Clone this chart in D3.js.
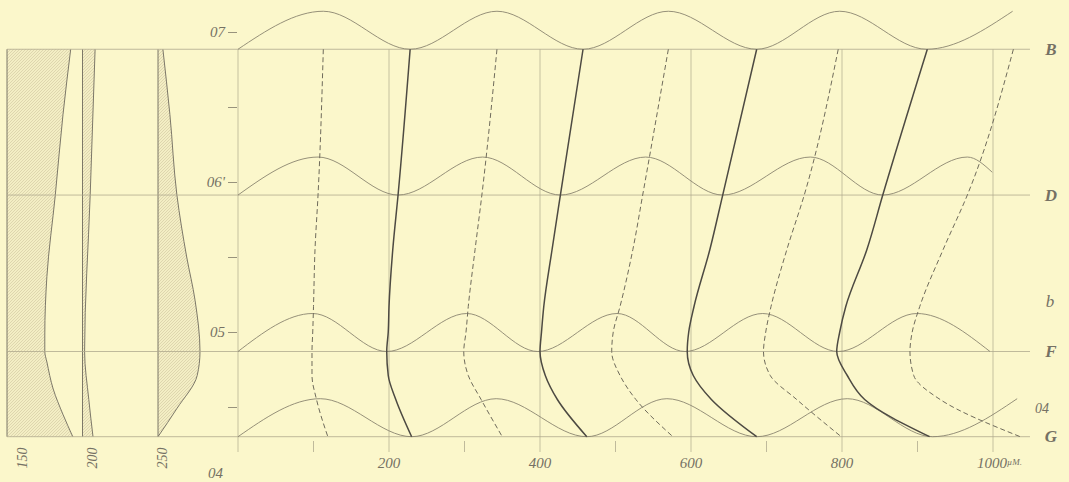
<!DOCTYPE html>
<html lang="en">
<head>
<meta charset="utf-8">
<title>Interference curves</title>
<script src="https://d3js.org/d3.v7.min.js"></script>
<style>
  html, body { margin: 0; padding: 0; background: #fbf7cb; }
  svg { display: block; }
  text { font-family: "Liberation Serif", "DejaVu Serif", serif; font-style: italic; fill: #757164; }
</style>
</head>
<body>
<div id="chart"></div>
<script>
const w = 1069;
const h = 482;

// Fraunhofer lines (wavelength, micron)
const lineNames = ["B", "D", "F", "G"];
const lineWaves = [0.6885, 0.5913, 0.487, 0.4302];

// y axis ticks
const yTicks = [0.7, 0.65, 0.6, 0.55, 0.5, 0.45, 0.4];
const yLabels = {0.7: "07", 0.6: "06'", 0.5: "05", 0.4: "04"};

// x axis
const xMajor = [0, 200, 400, 600, 800, 1000];
const xMinor = [100, 300, 500, 700, 900];
const xLabels = ["200", "400", "600", "800", "1000"];

// intensity humps above each line: extrema positions and level
const humpBx = [0, 113, 228, 343, 457, 570, 687, 797, 912, 1026];
const humpBv = [0, 1, 0, 1, 0, 1, 0, 1, 0, 1];
const humpDx = [0, 106, 212, 324, 427, 540, 642, 758, 854, 966, 999];
const humpDv = [0, 1, 0, 1, 0, 1, 0, 1, 0, 1, 0.6];
const humpFx = [0, 99, 197, 303, 397, 502, 592, 695, 795, 899, 996];
const humpFv = [0, 1, 0, 1, 0, 1, 0, 1, 0, 1, 0];
const humpGx = [0, 109, 230, 342, 462, 568, 687, 807, 920, 1032];
const humpGv = [0, 1, 0, 1, 0, 1, 0, 1, 0, 1];

// wavelengths at which the fringe curves were read
const sampleWaves = [0.6885, 0.5913, 0.555, 0.517, 0.500, 0.487, 0.471, 0.455, 0.4302];

// dark fringes (solid)
const dark1 = [228, 212, 205, 200, 199, 197, 199, 209, 230];
const dark2 = [457, 427, 416, 405, 402, 400, 407, 423, 462];
const dark3 = [687, 642, 625, 604, 597, 595, 603, 627, 687];
const dark4 = [913, 854, 833, 805, 797, 793, 807, 830, 916];

// bright fringes (dashed)
const bright1 = [113, 106, 102, 100, 99, 98, 98, 104, 119];
const bright2 = [343, 323, 314, 305, 302, 299, 305, 322, 350];
const bright3 = [570, 536, 523, 506, 497, 495, 506, 527, 576];
const bright4 = [795, 750, 727, 706, 699, 696, 705, 740, 799];
const bright5 = [1027, 966, 934, 903, 893, 890, 895, 930, 1036];

// side panels: thickness 150, 200, 250
const panel1Waves = [0.6885, 0.645, 0.5913, 0.537, 0.498, 0.487, 0.480, 0.462, 0.445, 0.4302];
const panel1Vals  = [0.91, 0.80, 0.69, 0.57, 0.54, 0.54, 0.57, 0.66, 0.80, 0.94];
const panel2Waves = [0.6885, 0.5913, 0.487, 0.455, 0.4302];
const panel2Vals  = [0.18, 0.11, 0.03, 0.09, 0.15];
const panel3Waves = [0.6885, 0.645, 0.5913, 0.55, 0.521, 0.487, 0.471, 0.449, 0.4302];
const panel3Vals  = [0.07, 0.17, 0.27, 0.41, 0.53, 0.60, 0.56, 0.27, 0];

// scales
const xScale = d3.scaleLinear().domain([0, 1000]).range([238, 993]);
const yScale = d3.scaleLinear().domain([0.4, 0.7]).range([482, 32]);
const humpScale = d3.scaleLinear().domain([0, 1]).range([0, 38]);
const panelScale = d3.scaleLinear().domain([150, 250]).range([7, 158]);
const panelWidth = d3.scaleLinear().domain([0, 1]).range([0, 70]);
const panelLabelX = d3.scaleLinear().domain([150, 250]).range([22, 162]);

const gridColor = "#b0aa8e";

const svg = d3.select("#chart").append("svg")
  .attr("width", w)
  .attr("height", h);

svg.append("rect").attr("width", w).attr("height", h).attr("fill", "#fbf7cb");

// hatch pattern
const pat = svg.append("defs").append("pattern")
  .attr("id", "hatch")
  .attr("patternUnits", "userSpaceOnUse")
  .attr("width", 3).attr("height", 3);
pat.append("rect").attr("width", 3).attr("height", 3).attr("fill", "#f3eec4");
pat.append("path").attr("d", "M-1,1 L1,-1 M0,3 L3,0 M2,4 L4,2")
  .attr("stroke", "#c8bf99").attr("stroke-width", 0.5);

// side panels
const panels = [
  {v: 150, waves: panel1Waves, vals: panel1Vals},
  {v: 200, waves: panel2Waves, vals: panel2Vals},
  {v: 250, waves: panel3Waves, vals: panel3Vals}
];
const yB = yScale(lineWaves[0]);
const yG = yScale(lineWaves[3]);

panels.forEach(p => {
  const x0 = panelScale(p.v);
  const pts = p.waves.map((wv, i) => [wv, p.vals[i]]);
  svg.append("path")
    .datum(pts)
    .attr("fill", "url(#hatch)")
    .attr("d", d3.area()
      .y(d => yScale(d[0]))
      .x0(x0)
      .x1(d => x0 + panelWidth(d[1]))
      .curve(d3.curveMonotoneY));
  svg.append("path")
    .datum(pts)
    .attr("fill", "none")
    .attr("stroke", "#6e6a5d")
    .attr("stroke-width", 0.9)
    .attr("d", d3.line()
      .y(d => yScale(d[0]))
      .x(d => x0 + panelWidth(d[1]))
      .curve(d3.curveMonotoneY));
  svg.append("line")
    .attr("x1", x0).attr("x2", x0)
    .attr("y1", yB).attr("y2", yG)
    .attr("stroke", "#6e6a5d").attr("stroke-width", 0.9);
  svg.append("text")
    .attr("transform", "translate(" + panelLabelX(p.v) + ",458) rotate(-90)")
    .attr("text-anchor", "middle")
    .attr("dominant-baseline", "central")
    .attr("font-size", 14)
    .text(p.v);
});

// horizontal lines
svg.selectAll("line.hline")
  .data(lineWaves)
  .enter()
  .append("line")
  .attr("class", "hline")
  .attr("x1", 7).attr("x2", xScale(1049))
  .attr("y1", d => yScale(d)).attr("y2", d => yScale(d))
  .attr("stroke", gridColor)
  .attr("stroke-width", 0.8);

// vertical grid
svg.selectAll("line.vgrid")
  .data(xMajor)
  .enter()
  .append("line")
  .attr("class", "vgrid")
  .attr("x1", d => xScale(d)).attr("x2", d => xScale(d))
  .attr("y1", yB).attr("y2", 452)
  .attr("stroke", gridColor)
  .attr("stroke-width", 0.7);

svg.selectAll("line.vminor")
  .data(xMinor)
  .enter()
  .append("line")
  .attr("class", "vminor")
  .attr("x1", d => xScale(d)).attr("x2", d => xScale(d))
  .attr("y1", 441).attr("y2", 452)
  .attr("stroke", gridColor)
  .attr("stroke-width", 0.8);

// y axis
const yAxis = d3.axisLeft(yScale)
  .tickValues(yTicks)
  .tickSize(9)
  .tickPadding(3)
  .tickFormat(d => yLabels[d] || "");
const ya = svg.append("g")
  .attr("transform", "translate(237,0)")
  .call(yAxis);
ya.select(".domain").remove();
ya.selectAll("line").attr("stroke", "#8c8773").attr("stroke-width", 0.9);
ya.selectAll("text")
  .attr("font-size", 15)
  .attr("font-family", "Liberation Serif, serif")
  .attr("font-style", "italic")
  .attr("fill", "#757164");
// bottom label sits at the page edge
ya.selectAll(".tick").filter(d => d === 0.4).select("text")
  .attr("dy", "-0.3em").attr("x", -14);

// x labels
svg.selectAll("text.xl")
  .data(xLabels)
  .enter()
  .append("text")
  .attr("class", "xl")
  .attr("x", (d, i) => xScale(xMajor[i + 1]))
  .attr("y", 468)
  .attr("text-anchor", "middle")
  .attr("font-size", 15)
  .each(function (d) {
    const t = d3.select(this);
    t.append("tspan").text(d);
    if (d === "1000") {
      t.attr("text-anchor", "start").attr("x", xScale(1000) - 16);
      t.append("tspan").attr("font-size", 9).attr("dy", -3).text("µM.");
    }
  });

// humps
const humps = [[humpBx, humpBv], [humpDx, humpDv], [humpFx, humpFv], [humpGx, humpGv]];
humps.forEach((hp, k) => {
  const base = yScale(lineWaves[k]);
  const pts = hp[0].map((x, i) => [x, hp[1][i]]);
  svg.append("path")
    .datum(pts)
    .attr("fill", "none")
    .attr("stroke", "#8a856f")
    .attr("stroke-width", 0.9)
    .attr("d", d3.line()
      .x(d => xScale(d[0]))
      .y(d => base - humpScale(d[1]))
      .curve(d3.curveMonotoneX));
});

// fringe curves
const fringeLine = d3.line()
  .x(d => xScale(d[0]))
  .y(d => yScale(d[1]))
  .curve(d3.curveMonotoneY);

[bright1, bright2, bright3, bright4, bright5].forEach(arr => {
  svg.append("path")
    .datum(arr.map((x, i) => [x, sampleWaves[i]]))
    .attr("fill", "none")
    .attr("stroke", "#6f6b5b")
    .attr("stroke-width", 1)
    .attr("stroke-dasharray", "5,3")
    .attr("d", fringeLine);
});

[dark1, dark2, dark3, dark4].forEach(arr => {
  svg.append("path")
    .datum(arr.map((x, i) => [x, sampleWaves[i]]))
    .attr("fill", "none")
    .attr("stroke", "#4d4a42")
    .attr("stroke-width", 1.5)
    .attr("d", fringeLine);
});

// right-hand letters
svg.selectAll("text.ln")
  .data(lineNames)
  .enter()
  .append("text")
  .attr("class", "ln")
  .attr("x", 1051)
  .attr("y", (d, i) => yScale(lineWaves[i]))
  .attr("text-anchor", "middle")
  .attr("dominant-baseline", "central")
  .attr("font-size", 17)
  .attr("font-weight", "bold")
  .attr("fill", "#66625a")
  .text(d => d);

svg.append("text")
  .attr("x", 1050).attr("y", yScale(0.517) - 5)
  .attr("text-anchor", "middle")
  .attr("dominant-baseline", "central")
  .attr("font-size", 17)
  .attr("fill", "#66625a")
  .text("b");

svg.append("text")
  .attr("x", 1042).attr("y", 408)
  .attr("text-anchor", "middle")
  .attr("dominant-baseline", "central")
  .attr("font-size", 14)
  .text("04");
</script>
</body>
</html>
